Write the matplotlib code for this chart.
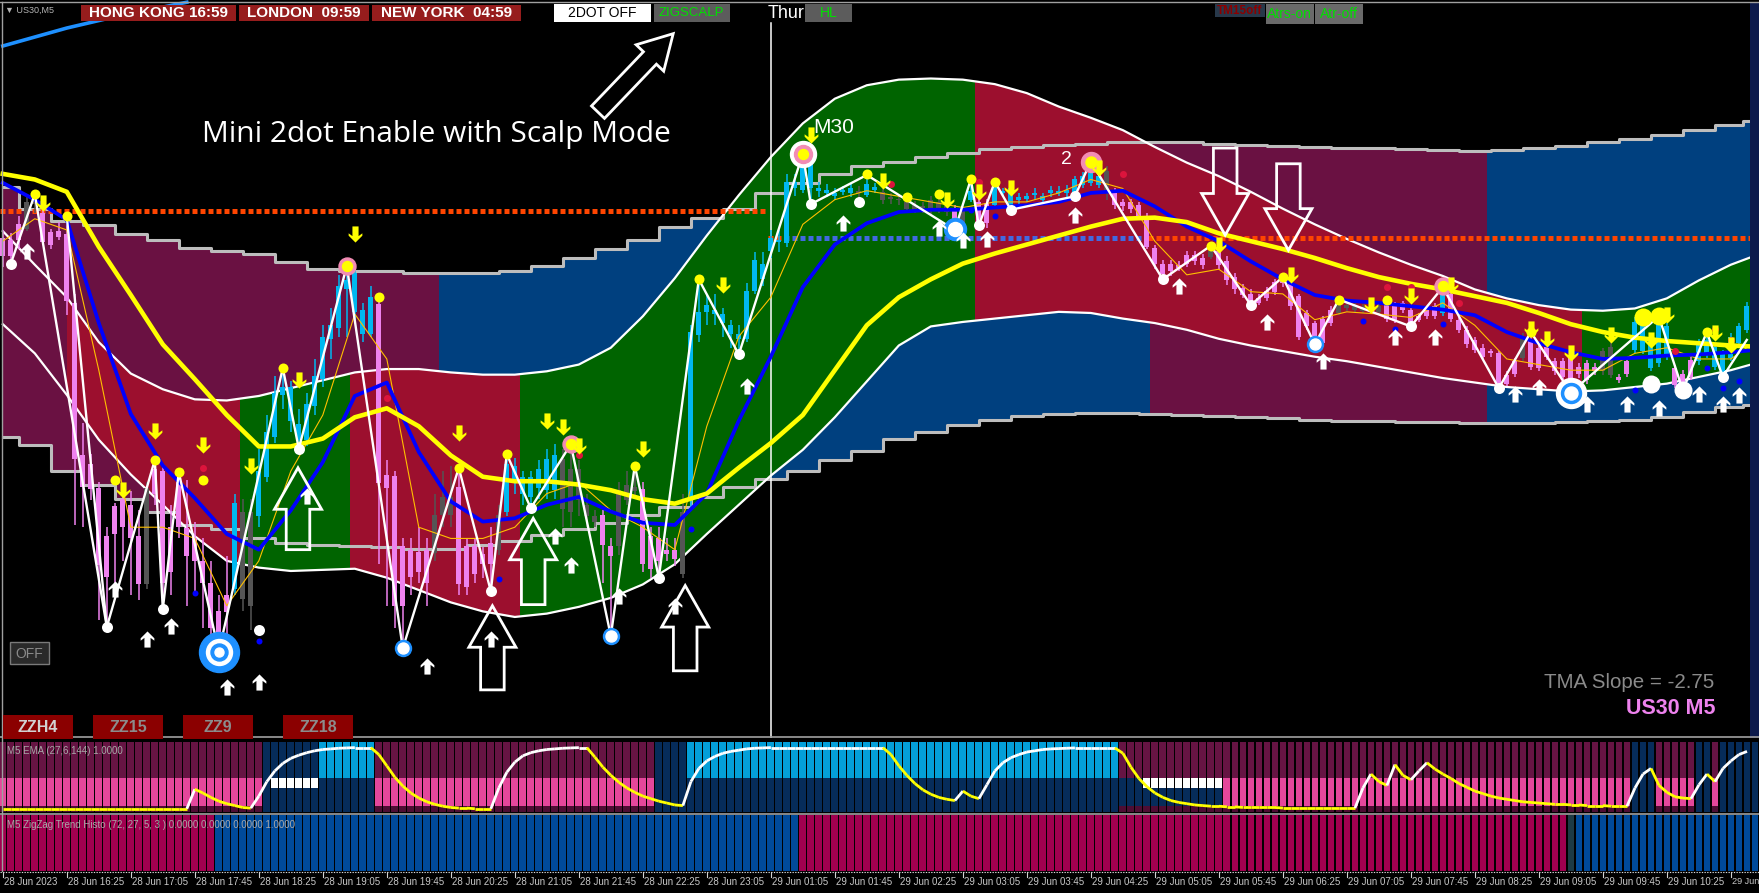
import numpy as np
import matplotlib
matplotlib.use("Agg")
import matplotlib.pyplot as plt
from matplotlib.patches import Rectangle, Polygon
from matplotlib.collections import LineCollection
from matplotlib.path import Path
from matplotlib.transforms import blended_transform_factory

W, H = 1759, 893

# ============================ DATA ============================
# 5-minute bars indexed 0..218.  Price values are in chart units read off the
# screenshot (no price scale is visible; a larger value sits lower on screen).
bar_open = [212,228,214,204,182,190,207,206,209,270, 406,414,435,478,451,470,450,478,521,440,
            420,510,470,471,480,500,520,545,530,525, 456,540,460,425,390,352,345,378,392,362,
            338,302,292,258,243,276,298,271,423,424, 487,490,492,490,493,459,443,434,487,487,
            494,484,490,456,430,440,443,435,437,437, 409,418,418,450,460,459,487,487,446,434,
            436,478,480,490,490,512,446,299,278,276, 280,290,298,302,259,249,224,214,217,168,
            169,168,168,172,175,171,172,170,174,169, 171,176,177,180,183,184,178,180,184,187,
            199,178,180,181,183,172,183,178,177,174, 178,172,172,172,172,165,163,165,152,171,
            180,180,183,193,221,235,235,236,227,227, 230,229,224,233,247,257,262,266,266,260,
            252,247,264,279,288,284,276,279,275,276, 274,276,278,272,272,270,276,282,276,273,
            279,262,285,294,303,310,313,315,334,322, 319,303,310,309,322,322,319,327,324,327,
            331,334,336,322,312,313,328,324,318,328, 333,321,322,316,327,331,319,306,294]
bar_close = [228,214,200,180,176,216,218,211,268,409, 434,436,504,514,476,445,480,521,435,418,
             520,470,430,496,500,520,560,565,546,448, 534,456,420,385,350,345,375,392,360,335,
             300,290,255,250,278,298,265,431,435,540, 540,514,510,520,459,443,459,521,523,512,
             503,503,459,414,415,425,425,418,409,406, 454,456,446,460,465,486,496,437,432,438,
             503,507,500,494,498,456,296,278,272,280, 288,298,302,259,232,235,212,216,162,162,
             140,145,170,169,172,169,168,172,164,167, 178,177,178,186,187,185,187,186,189,199,
             186,170,198,199,165,170,168,176,175,172, 175,169,170,169,160,157,154,157,172,183,
             184,186,193,220,235,244,242,239,235,233, 236,224,236,250,258,263,270,270,259,251,
             249,273,300,291,303,306,288,272,272,272, 277,273,273,284,285,276,287,285,282,282,
             260,284,294,307,312,318,315,342,342,333, 300,327,328,318,331,336,348,333,339,331,
             313,309,339,333,287,285,303,287,291,343, 345,336,306,303,309,315,300,291,273]
bar_high = [205,208,193,176,173,178,204,198,193,262, 377,405,430,470,448,440,438,455,430,410,
            415,450,421,428,465,480,500,530,496,440, 445,445,400,370,335,328,340,365,350,320,
            290,275,245,237,240,270,255,265,410,420, 480,480,470,480,440,420,415,417,480,480,
            488,470,450,405,408,420,420,410,400,396, 400,396,410,440,455,455,480,430,420,415,
            430,470,470,480,480,440,290,249,262,262, 275,285,290,252,225,225,205,205,155,155,
            137,140,162,164,168,166,164,166,156,163, 168,172,174,176,179,180,175,177,180,183,
            182,160,176,177,162,168,165,172,172,168, 172,166,166,165,157,153,144,150,148,168,
            177,177,180,190,218,232,232,233,224,224, 226,219,221,228,243,253,258,262,256,249,
            247,245,262,276,286,282,273,267,270,270, 271,270,270,269,269,268,274,279,273,270,
            255,258,282,291,300,307,311,313,331,319, 297,296,307,306,319,319,317,324,321,324,
            310,305,333,319,283,281,300,282,288,325, 330,318,302,297,306,312,297,288,269]
bar_low = [238,236,222,206,190,218,222,214,281,468, 470,446,553,559,520,500,530,535,525,450,
           543,530,480,540,530,560,575,581,565,530, 545,562,470,430,395,365,385,400,398,370,
           345,320,300,300,285,305,300,503,540,560, 581,530,520,540,500,470,470,530,530,520,
           515,527,495,460,440,450,453,445,445,445, 470,470,460,470,470,520,567,495,450,445,
           510,515,515,500,505,515,455,305,290,290, 300,310,316,305,262,255,230,225,220,175,
           172,182,176,176,178,174,176,180,176,172, 182,182,183,190,190,190,191,190,193,204,
           202,180,201,203,186,176,187,182,180,178, 182,176,175,176,175,168,166,168,178,186,
           188,190,196,222,240,249,246,242,238,236, 240,231,240,254,262,266,272,272,268,263,
           256,276,303,294,307,308,291,281,277,279, 279,279,280,287,288,279,291,287,284,284,
           282,287,297,310,315,321,318,346,344,336, 322,330,331,321,334,339,350,337,342,334,
           334,337,341,336,315,316,331,327,321,346, 348,339,325,319,330,336,322,309,297]
bar_kind = ("vvvggvvvvv" "vvvvvvvvgv" "vvvvvvvvvb" "ggbbbbbbbb" "bbbbbbbvvv"
            "vvvvgggvvv" "vvgbbbbbbb" "gggggvvggg" "vvvvvgbbbb" "bbbbbbbbbb"
            "bbbbbbbgbb" "gggggggggv" "gbvvbbbbbb" "bbbbbbbbgv" "vvvvvvvvvv"
            "vgvvvvvvvv" "vvvvvvvggg" "gggvvvvvvv" "bvvvvvvvvv" "gvvvvvvvvv"
            "ggvvbbbbbv" "vvbbbbbbb")

# indicator lines sampled every 4 bars
band_bars = [0,4,8,12,16,20,24,28,32,36,40,44,48,52,56,60,64,68,72,76,80,84,88,92,96,100,
             104,108,112,116,120,124,128,132,136,140,144,148,152,156,160,164,168,172,176,180,
             184,188,192,196,200,204,208,212,216,219]
atr_upper = [167,186,197,201,209,214,221,224,226,234,240,242,242,243,243,243,242,237,230,222,
             214,202,194,186,172,163,155,148,144,140,136,133,131,129,128,127,127,127,128,129,
             130,131,132,132,133,134,135,134,132,130,127,124,120,116,111,108]
atr_lower = [390,397,420,432,445,456,468,472,480,484,486,487,488,489,489,486,482,477,472,466,
             459,452,443,434,427,420,410,402,391,385,379,374,371,369,368,368,369,370,371,372,
             373,374,375,375,376,376,377,377,377,376,375,374,372,367,363,361]
tma_upper = [206,236,265,305,333,347,356,357,353,346,339,332,329,329,332,334,334,331,325,310,
             282,248,210,174,140,110,88,76,71,70,71,75,83,95,105,116,131,145,157,171,
             186,200,213,225,236,246,258,266,272,276,277,275,266,250,236,228]
tma_lower = [289,315,352,392,423,450,478,500,506,509,508,507,515,526,537,545,550,547,541,533,
             521,503,476,450,424,401,372,340,308,291,287,284,281,278,279,284,288,294,302,308,
             313,318,322,327,332,337,341,345,347,349,348,345,342,336,330,324]
ma_slow = [155,160,171,220,263,307,338,370,398,398,391,372,364,380,406,425,429,429,432,437,
           445,449,440,417,395,370,330,290,265,249,235,226,218,210,202,195,194,198,208,215,
           222,230,239,247,253,258,264,270,279,289,296,301,304,306,308,309]
ma_mid = [163,178,196,288,369,415,444,476,490,455,412,353,341,403,447,465,462,450,443,456,
          466,468,440,375,318,256,218,199,189,187,187,185,183,180,172,170,184,202,215,233,
          249,263,268,270,273,276,281,296,306,314,320,319,317,316,314,312]
ma_fast = [215,195,205,330,470,470,480,540,500,420,370,280,320,470,480,480,470,440,430,455,
           470,490,380,300,265,200,178,170,175,180,185,180,180,172,160,168,215,245,240,260,
           262,285,278,280,283,270,290,320,325,330,330,315,310,320,320,305]
htf_ma_bars = [0, 8, 14, 23]
htf_ma = [41, 25, 15, 2]

# colour zones (bar ranges)
outer_zones = [(-1, 54.5, "maroon"), (54.5, 143.4, "blue"), (143.4, 185.5, "maroon"), (185.5, 220, "blue")]
inner_zones = [(-1, 8, "maroon"), (8, 29.7, "red"), (29.7, 43.4, "green"), (43.4, 64.6, "red"),
               (64.6, 121.5, "green"), (121.5, 197.4, "red"), (197.4, 220, "green")]

# horizontal dotted levels: (from bar, to bar, level, colour)
dotted_levels = [(-0.4, 95.5, 188, "orange"), (95.6, 97.6, 212, "orange"),
                 (97.6, 143.2, 212, "blue"), (143.2, 218.6, 212, "orange")]

# zigzag
zz_bars = [1,4,13,19,20,22,27,35,37,43,50,57,61,63,66,71,76,79,82,87,92,100,101,108,119,121,122,
           124,126,134,136,145,151,156,160,164,167,176,180,187,191,196,207,210,213,215,218]
zz_vals = [235,173,559,410,543,421,581,328,400,237,578,417,527,405,453,396,567,415,515,249,316,137,
           182,156,205,160,201,162,187,175,144,249,219,272,247,307,267,291,256,346,296,350,282,348,
           296,336,303]
zz2_bars = [8, 13]
zz2_vals = [193, 559]

# fractal dots
hi_dot_bars = [4,8,14,19,22,25,35,47,57,63,79,87,108,113,117,121,124,151,160,167,173,191,213]
hi_dot_vals = [173,193,428,410,421,428,328,265,417,405,415,249,155,176,173,160,162,219,247,267,267,296,296]
lo_dot_bars = [1,13,20,32,37,61,66,82,92,101,107,122,126,134,145,156,176,187,215]
lo_dot_vals = [235,559,543,562,400,527,453,515,316,182,180,201,187,175,249,272,291,346,336]
big_hi_bars = [205, 207]
big_hi_vals = [283, 282]
big_lo_bars = [206, 210]
big_lo_vals = [342, 348]
ring_lo_bars = [50, 76, 164]
ring_lo_vals = [578, 567, 307]
pink_hi_bars = [43, 71, 180]
pink_hi_vals = [237, 396, 255]
blue_dot_bars = [24,32,62,86,121,124,170,174,180,204,213,215,217]
blue_dot_vals = [529,571,516,472,187,193,286,293,289,348,328,346,340]
red_dot_bars = [25,48,72,111,122,140,173,176,182,209,214,216]
red_dot_vals = [417,355,406,164,162,155,256,256,270,313,293,303]

# signal arrows
sell_bars = [5,15,19,25,31,37,44,57,68,70,72,80,90,101,110,118,122,126,137,152,161,171,176,181,
             191,193,196,201,206,208,214,216]
sell_vals = [181,437,384,397,415,339,209,386,375,381,398,400,254,120,161,178,171,168,150,218,245,
             272,264,254,293,302,315,299,303,281,297,308]
buy_bars = [3,14,18,21,28,32,38,53,61,69,71,77,84,93,105,117,120,123,134,147,158,165,174,179,189,
            192,198,203,207,212,215,217]
buy_vals = [224,525,570,558,612,608,442,594,570,478,504,531,540,344,199,203,214,213,192,255,287,
            322,300,300,351,345,360,360,364,351,360,352]

# large hand-drawn outline arrows: (tail bar, tail value, tip bar, tip value)
big_arrows = [(36.9, 490, 36.9, 417), (66.3, 539, 66.3, 462), (61.2, 615, 61.2, 540),
              (85.3, 598, 85.3, 522), (152.8, 132, 152.8, 209.5), (160.7, 146, 160.7, 223)]
pointer_arrow = (74.4, 100, 83.8, 30)

# sub-window 1: "M5 EMA (27,6,144)"
ema_vals = [0.02,0.02,0.02,0.02,0.02,0.02,0.02,0.02,0.02,0.02,0.02,0.02,0.02,0.02,0.02,0.02,
            0.02,0.02,0.02,0.02,0.02,0.02,0.02,0.02,
            0.33,0.27,0.20,0.14,0.10,0.07,0.04,0.03,
            0.22,0.45,0.62,0.74,0.82,0.87,0.91,0.94,0.96,0.97,0.98,0.985,0.99,0.99,0.99,
            0.88,0.70,0.52,0.38,0.27,0.19,0.13,0.09,0.06,0.04,0.03,0.03,0.02,0.02,0.02,
            0.35,0.60,0.76,0.86,0.91,0.94,0.96,0.97,0.98,0.985,0.99,0.99,
            0.84,0.68,0.55,0.44,0.35,0.28,0.22,0.18,0.14,0.11,0.08,0.07,
            0.45,0.66,0.78,0.85,0.90,0.93,0.95,0.97,0.98,0.985,
            0.99,0.99,0.99,0.99,0.99,0.99,0.99,0.99,0.99,0.99,0.99,0.99,0.99,0.99,0.99,
            0.88,0.70,0.55,0.42,0.32,0.25,0.20,0.17,0.15,
            0.30,0.22,0.18,
            0.40,0.62,0.75,0.83,0.88,0.92,0.94,0.96,0.97,0.975,0.98,
            0.985,0.985,0.985,0.985,0.985,0.985,
            0.90,0.68,0.50,0.37,0.27,0.20,0.15,0.12,0.10,0.08,
            0.07,0.06,0.06,0.05,0.05,0.04,0.04,0.04,0.04,0.04,0.03,0.03,0.03,0.03,0.03,0.03,0.03,
            0.03,0.03,0.03,
            0.35,0.57,0.45,0.39,0.72,0.55,0.48,0.62,0.75,0.65,
            0.57,0.50,0.42,0.36,0.30,0.26,0.22,0.19,0.17,0.15,0.13,0.12,0.11,0.10,0.09,0.09,0.08,
            0.08,0.07,0.07,0.07,0.06,0.06,0.06,
            0.35,0.57,0.66,0.39,0.28,0.21,0.19,0.18,
            0.40,0.57,0.45,0.66,0.78,0.88,0.93]
ema_top_runs = [(0,32,"m"),(33,39,"n"),(40,46,"l"),(47,81,"m"),(82,85,"n"),(86,139,"l"),
                (140,203,"m"),(204,206,"n"),(207,211,"m"),(212,213,"n"),(214,214,"m"),(215,219,"n")]
ema_mid_runs = [(0,32,"p"),(33,33,"n"),(34,39,"w"),(40,46,"n"),(47,81,"p"),(82,142,"n"),
                (143,152,"w"),(153,203,"p"),(204,206,"n"),(207,211,"p"),(212,213,"n"),(214,214,"p"),(215,219,"n")]
# sub-window 2: ZigZag Trend Histo
zz_histo_runs = [(0,26,"mag"),(27,99,"blu"),(100,195,"mag"),(196,196,"dark"),(197,219,"blu")]

tick_bars = [0,8,16,24,32,40,48,56,64,72,80,88,96,104,112,120,128,136,144,152,160,168,176,184,192,200,208,216]
tick_labels = ["28 Jun 2023","28 Jun 16:25","28 Jun 17:05","28 Jun 17:45","28 Jun 18:25","28 Jun 19:05",
               "28 Jun 19:45","28 Jun 20:25","28 Jun 21:05","28 Jun 21:45","28 Jun 22:25","28 Jun 23:05",
               "29 Jun 01:05","29 Jun 01:45","29 Jun 02:25","29 Jun 03:05","29 Jun 03:45","29 Jun 04:25",
               "29 Jun 05:05","29 Jun 05:45","29 Jun 06:25","29 Jun 07:05","29 Jun 07:45","29 Jun 08:25",
               "29 Jun 09:05","29 Jun 09:45","29 Jun 10:25","29 Jun"]
day_separator_bar = 96

# ============================ STYLE ============================
ZONE = {"maroon": "#6a1142", "red": "#9c0f2e", "green": "#006400", "blue": "#00407f"}
CANDLE = {"b": "#00b8f0", "v": "#ee82ee", "g": "#555555"}
EMA_TOP = {"m": "#661443", "n": "#062c5a", "l": "#049fd8"}
EMA_MID = {"p": "#e4479b", "n": "#062c5a", "w": "#062c5a"}
EMA_BOT = {"m": "#4e0d33", "n": "#062c5a", "l": "#062c5a"}
HISTO = {"mag": "#a0004f", "blu": "#004a9a", "dark": "#1d3a44"}
UI = ["Liberation Sans", "DejaVu Sans"]
PX_PER_BAR = 7.13   # horizontal reference-pixels per bar, keeps outline arrows in proportion

fig = plt.figure(figsize=(W / 100, H / 100), dpi=100)
fig.patch.set_facecolor("black")

def fx(x): return x / W
def fy(y): return 1 - y / H
def frect(x0, y0, x1, y1, z=2, **kw):
    r = Rectangle((fx(x0), fy(y1)), (x1 - x0) / W, (y1 - y0) / H, transform=fig.transFigure, zorder=z, **kw)
    fig.add_artist(r)
    return r
def ftext(x, y, s, **kw):
    kw.setdefault("family", UI)
    return fig.text(fx(x), fy(y), s, **kw)
def fline(xs, ys, **kw):
    fig.add_artist(plt.Line2D([fx(v) for v in xs], [fy(v) for v in ys], transform=fig.transFigure, **kw))

# ---------------- main window ----------------
ax = fig.add_axes([0, fy(738), 1750 / W, 738 / H])
ax.set_xlim(-0.35, 218.4)
ax.set_ylim(657.9, 0)
ax.set_axis_off()

def zone_fill(y1, y2, zones, step=None, z=1):
    for x0, x1, col in zones:
        pc = ax.fill_between(band_bars, y1, y2, color=ZONE[col], lw=0, zorder=z, step=step)
        pc.set_clip_path(Rectangle((x0, -5000), x1 - x0, 10000, transform=ax.transData))

zone_fill(atr_upper, atr_lower, outer_zones, step="mid", z=1)
zone_fill(tma_upper, tma_lower, inner_zones, z=1.5)

ax.plot(band_bars, atr_upper, drawstyle="steps-mid", color="#bdbdbd", lw=2.2, zorder=2)
ax.plot(band_bars, atr_lower, drawstyle="steps-mid", color="#bdbdbd", lw=2.2, zorder=2)
ax.plot(band_bars, tma_upper, color="white", lw=1.6, zorder=2.2)
ax.plot(band_bars, tma_lower, color="white", lw=1.6, zorder=2.2)

for x0, x1, lvl, col in dotted_levels:
    c = "#ff4500" if col == "orange" else "#4169e1"
    ln, = ax.plot([x0, x1], [lvl, lvl], color=c, lw=3.6, solid_capstyle="butt", zorder=2.5)
    ln.set_dashes((1.0, 0.6))

ax.plot([day_separator_bar, day_separator_bar], [20.5, 657.9], color="white", lw=1.1, zorder=2.4)

# candles
xb = np.arange(len(bar_open))
o = np.array(bar_open, float); c = np.array(bar_close, float)
cols = [CANDLE[k] for k in bar_kind]
ax.vlines(xb, bar_high, bar_low, colors=cols, lw=1.1, zorder=3)
body = c - o
body = np.where(np.abs(body) < 1.5, 1.5, body)
ax.bar(xb, body, bottom=o, width=0.66, color=cols, lw=0, zorder=3.1)

ax.plot(band_bars, ma_fast, color="#ffc000", lw=0.8, zorder=3.5)
ax.plot(band_bars, ma_mid, color="#0000ff", lw=2.7, zorder=3.6)
ax.plot(band_bars, ma_slow, color="#ffff00", lw=3.3, zorder=3.7)
ax.plot(htf_ma_bars, htf_ma, color="#1e90ff", lw=2.6, zorder=3.7)

ax.plot(zz_bars, zz_vals, color="white", lw=1.7, zorder=5)
ax.plot(zz2_bars, zz2_vals, color="white", lw=1.7, zorder=5)

def pts(r):  # radius in px -> scatter size
    return (2 * r * 0.72) ** 2

# special targets
ax.scatter([27], [581], s=pts(20), color="#1e90ff", zorder=6)
ax.scatter([27], [581], s=pts(13), color="white", zorder=6.1)
ax.scatter([27], [581], s=pts(8.5), color="#1e90ff", zorder=6.2)
ax.scatter([27], [581], s=pts(4.5), color="white", zorder=6.3)
ax.scatter([196], [350], s=pts(15), color="white", zorder=6)
ax.scatter([196], [350], s=pts(10), color="#1e90ff", zorder=6.1)
ax.scatter([196], [350], s=pts(6.5), color="white", zorder=6.2)
ax.scatter([100], [137], s=pts(13), color="white", zorder=6)
ax.scatter([100], [137], s=pts(9), color="#f28cb4", zorder=6.1)
ax.scatter([100], [137], s=pts(5), color="#ffff00", zorder=6.2)
ax.scatter([136], [144], s=pts(10), color="#f28cb4", zorder=6)
ax.scatter([136], [144], s=pts(5.5), color="#ffff00", zorder=6.1)
ax.scatter([119], [204], s=pts(11), color="#1e90ff", zorder=6)
ax.scatter([119], [204], s=pts(7), color="white", zorder=6.1)
ax.scatter(pink_hi_bars, pink_hi_vals, s=pts(8.5), color="#f28cb4", zorder=6)
ax.scatter(pink_hi_bars, pink_hi_vals, s=pts(5), color="#ffff00", zorder=6.1)
ax.scatter(ring_lo_bars, ring_lo_vals, s=pts(8), color="#1e90ff", zorder=6)
ax.scatter(ring_lo_bars, ring_lo_vals, s=pts(5.5), color="white", zorder=6.1)

ax.scatter(hi_dot_bars, hi_dot_vals, s=pts(5), color="#ffff00", lw=0, zorder=6)
ax.scatter(lo_dot_bars, lo_dot_vals, s=pts(5.5), color="white", lw=0, zorder=6)
ax.scatter(big_hi_bars, big_hi_vals, s=pts(9), color="#ffff00", lw=0, zorder=6)
ax.scatter(big_lo_bars, big_lo_vals, s=pts(9), color="white", lw=0, zorder=6)
ax.scatter(blue_dot_bars, blue_dot_vals, s=pts(3), color="#0000ff", lw=0, zorder=6)
ax.scatter(red_dot_bars, red_dot_vals, s=pts(3.5), color="#dc143c", lw=0, zorder=6)

arrow_v = [(0, 1), (0.85, 0.15), (0.85, -0.15), (0.38, 0.2), (0.38, -1), (-0.38, -1),
           (-0.38, 0.2), (-0.85, -0.15), (-0.85, 0.15)]
nv = len(arrow_v)
up_path = Path(arrow_v + [arrow_v[0]], [Path.MOVETO] + [Path.LINETO] * (nv - 1) + [Path.CLOSEPOLY])
dn_path = Path([(x, -y) for x, y in arrow_v] + [arrow_v[0]],
               [Path.MOVETO] + [Path.LINETO] * (nv - 1) + [Path.CLOSEPOLY])
ax.scatter(buy_bars, buy_vals, s=135, marker=up_path, color="white", lw=0, zorder=6.5)
ax.scatter(sell_bars, sell_vals, s=135, marker=dn_path, color="#ffff00", lw=0, zorder=6.5)

def outline_arrow(tail_b, tail_v, tip_b, tip_v, hw=21, sw=10.5, hl=37):
    t = np.array([tail_b * PX_PER_BAR, tail_v]); p = np.array([tip_b * PX_PER_BAR, tip_v])
    d = p - t; u = d / np.hypot(*d); n = np.array([-u[1], u[0]])
    base = p - u * hl
    poly = [p, base + n * hw, base + n * sw, t + n * sw, t - n * sw, base - n * sw, base - n * hw]
    ax.add_patch(Polygon([(q[0] / PX_PER_BAR, q[1]) for q in poly], closed=True, fill=False,
                         ec="white", lw=2, zorder=7, joinstyle="miter"))

for a in big_arrows:
    outline_arrow(*a)
outline_arrow(*pointer_arrow, hw=17, sw=8, hl=30)

ax.text(101.3, 114, "M30", color="white", fontsize=15, ha="left", va="center", family=UI, zorder=8)
ax.text(132.9, 142, "2", color="white", fontsize=14, ha="center", va="center", family=UI, zorder=8)

# right price-scale strip
frect(1750, 3, 1759, 738, z=3, color="#0c1a4c", lw=0)

# ---------------- sub-window 1 ----------------
def expand(runs):
    out = []
    for a, b, k in runs:
        out += [k] * (b - a + 1)
    return out

ax1 = fig.add_axes([0, fy(812.3), 1, (812.3 - 741.7) / H])
ax1.set_xlim(-0.35, 219.5)
ax1.set_ylim(-0.0365, 1.084)
ax1.set_axis_off()
top = expand(ema_top_runs); mid = expand(ema_mid_runs)
xh = np.arange(len(top))
ax1.bar(xh, 1.084 - 0.513, bottom=0.513, width=0.86, color=[EMA_TOP[k] for k in top], lw=0)
ax1.bar(xh, 0.513 - 0.068, bottom=0.068, width=0.86, color=[EMA_MID[k] for k in mid], lw=0)
ax1.bar(xh, 0.068 + 0.0365, bottom=-0.0365, width=0.86, color=[EMA_BOT[k] for k in top], lw=0)
wx = [i for i, k in enumerate(mid) if k == "w"]
ax1.bar(wx, 0.159, bottom=0.349, width=0.86, color="white", lw=0)
ev = np.array(ema_vals)
ex = np.arange(len(ev))
segs = [[(ex[i - 1], ev[i - 1]), (ex[i], ev[i])] for i in range(1, len(ev))]
scol = ["white" if (ev[i] > ev[i - 1] or (ev[i] == ev[i - 1] and ev[i] > 0.5)) else "#ffff00"
        for i in range(1, len(ev))]
ax1.add_collection(LineCollection(segs, colors=scol, lw=2.0, zorder=4))

# ---------------- sub-window 2 ----------------
ax2 = fig.add_axes([0, fy(871), 1, (871 - 815) / H])
ax2.set_xlim(-0.35, 219.5)
ax2.set_ylim(0, 1)
ax2.set_axis_off()
hz = expand(zz_histo_runs)
ax2.bar(np.arange(len(hz)), 1, bottom=0, width=0.86, color=[HISTO[k] for k in hz], lw=0)

ftext(7, 751, "M5 EMA (27,6,144) 1.0000", fontsize=7, color="#a8a8a8", va="center", zorder=5)
ftext(7, 825, "M5 ZigZag Trend Histo (72, 27, 5, 3 ) 0.0000 0.0000 0.0000 1.0000",
      fontsize=7, color="#a8a8a8", va="center", zorder=5)

# ---------------- time axis ----------------
tr = blended_transform_factory(ax2.transData, fig.transFigure)
for b, lab in zip(tick_bars, tick_labels):
    ax2.plot([b, b], [fy(872), fy(877)], color="#d0d0d0", lw=0.8, transform=tr, clip_on=False)
    ax2.text(b + 0.12, fy(882), lab, transform=tr, fontsize=7 if b < 216 else 6.6, color="#c8c8c8",
             va="center", ha="left", family=UI)

# frames and separators
fline([0, W], [1.5, 1.5], color="#a0a0a0", lw=1.0, zorder=4)
fline([0, W], [737, 737], color="#a0a0a0", lw=1.2, zorder=4)
fline([0, W], [813.6, 813.6], color="#a0a0a0", lw=1.2, zorder=4)
fline([2.3, 2.3], [2, 871], color="#a0a0a0", lw=1.0, zorder=4)
sep = plt.Line2D([0, 1], [fy(872), fy(872)], transform=fig.transFigure, color="#d8d8d8", lw=0.8, zorder=4)
sep.set_dashes((1.2, 1.2))
fig.add_artist(sep)

# ---------------- top bar widgets ----------------
ftext(5, 10, "\u25BC US30,M5", fontsize=6.5, color="#b4b4b4", va="center", zorder=6)
for x0, x1, lab in [(81.4, 235.7, "HONG KONG 16:59"), (238.5, 369.3, "LONDON  09:59"), (372, 520.8, "NEW YORK  04:59")]:
    frect(x0, 5, x1, 21, z=5, color="#961d1d", lw=0)
    ftext((x0 + x1) / 2, 13.3, lab, fontsize=11, color="white", weight="bold", ha="center", va="center", zorder=6)
frect(554.4, 4, 651, 22, z=5, color="white", lw=0)
ftext(602.7, 13.3, "2DOT OFF", fontsize=10, color="black", ha="center", va="center", zorder=6)
frect(653.8, 4, 729.5, 22, z=5, color="#5c5c5c", lw=0)
ftext(691.6, 13.3, "ZIGSCALP", fontsize=9.5, color="#00e000", ha="center", va="center", zorder=6)
ftext(767.5, 13.5, "Thur", fontsize=13, color="white", ha="left", va="center", zorder=5.5)
frect(804.7, 4, 851.9, 22, z=6, color="#5c5c5c", lw=0)
ftext(828.3, 13.3, "HL", fontsize=10, color="#00e000", ha="center", va="center", zorder=7)
frect(1215, 4, 1264.5, 17, z=5, color="#27384a", lw=0)
ftext(1239.7, 10.8, "TM15off", fontsize=8.5, color="#8b0000", weight="bold", ha="center", va="center", zorder=6)
frect(1265.6, 4, 1313.9, 24, z=5, color="#6a6a6a", lw=0)
ftext(1289.7, 14, "Atrs-on", fontsize=10, color="#00e000", ha="center", va="center", zorder=6)
frect(1315, 4, 1363, 24, z=5, color="#6a6a6a", lw=0)
ftext(1339, 14, "Atr-off", fontsize=10, color="#00e000", ha="center", va="center", zorder=6)

# ---------------- annotations / buttons ----------------
ftext(202, 134.6, "Mini 2dot Enable with Scalp Mode", fontsize=21.5, color="white",
      family=["Open Sans", "DejaVu Sans"], ha="left", va="center", zorder=8)
ftext(1714, 683, "TMA Slope = -2.75", fontsize=14.8, color="#8a8a8a", ha="right", va="center", zorder=8)
ftext(1715, 709, "US30 M5", fontsize=15.5, color="#ee82ee", weight="bold", ha="right", va="center", zorder=8)

frect(10, 642, 49, 664, z=8, facecolor="#2a2a2a", edgecolor="#7a7a7a", lw=1)
ftext(29.5, 653.5, "OFF", fontsize=10, color="#8a8a8a", ha="center", va="center", zorder=9)
for x0, x1, lab, tc in [(3.3, 72.7, "ZZH4", "#d2d2d2"), (93, 163, "ZZ15", "#8c8c8c"),
                        (183, 253, "ZZ9", "#8c8c8c"), (283, 353, "ZZ18", "#8c8c8c")]:
    frect(x0, 715, x1, 739, z=8, color="#8b0000", lw=0)
    ftext((x0 + x1) / 2, 727.5, lab, fontsize=11.5, color=tc, weight="bold", ha="center", va="center", zorder=9)

fig.savefig("out.png", dpi=100, facecolor="black")
